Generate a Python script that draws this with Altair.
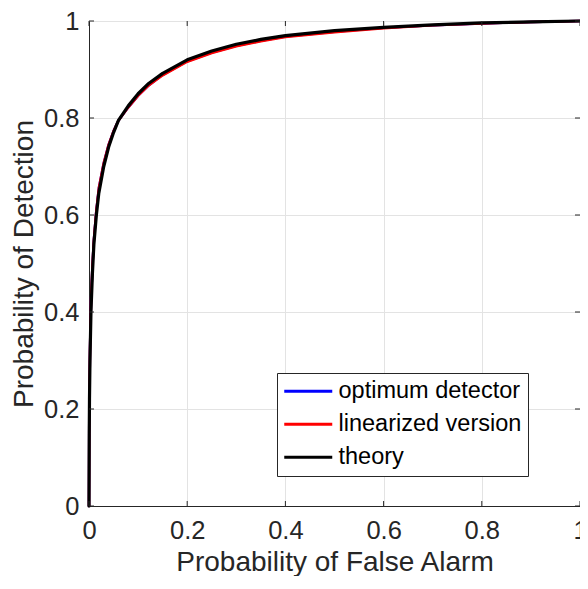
import altair as alt
import pandas as pd

# ---- data ----
pf_theory = [0, 0.0005, 0.001, 0.002, 0.004, 0.007, 0.01, 0.015, 0.02, 0.03, 0.04, 0.05,
             0.06, 0.08, 0.1, 0.12, 0.15, 0.2, 0.25, 0.3, 0.35, 0.4, 0.5, 0.6, 0.7, 0.8, 0.9, 1.0]
pd_theory = [0, 0.15, 0.22, 0.30, 0.40, 0.48, 0.54, 0.60, 0.645, 0.70, 0.74, 0.77,
             0.795, 0.825, 0.85, 0.87, 0.892, 0.92, 0.938, 0.952, 0.962, 0.970, 0.980, 0.987, 0.992, 0.996, 0.998, 1.0]

pf_lin = [0, 0.0005, 0.001, 0.002, 0.004, 0.007, 0.01, 0.015, 0.02, 0.03, 0.04, 0.05,
          0.06, 0.08, 0.1, 0.12, 0.15, 0.2, 0.25, 0.3, 0.35, 0.4, 0.5, 0.6, 0.7, 0.8, 0.9, 1.0]
pd_lin = [0, 0.17, 0.24, 0.32, 0.42, 0.495, 0.55, 0.61, 0.655, 0.707, 0.745, 0.773,
          0.795, 0.822, 0.846, 0.866, 0.888, 0.916, 0.934, 0.948, 0.958, 0.967, 0.977, 0.985, 0.991, 0.995, 0.998, 1.0]

pf_opt = [0, 0.0005, 0.001, 0.002, 0.004, 0.007, 0.01, 0.015, 0.02, 0.03, 0.04, 0.05,
          0.06, 0.08, 0.1, 0.12, 0.15, 0.2, 0.25, 0.3, 0.35, 0.4, 0.5, 0.6, 0.7, 0.8, 0.9, 1.0]
pd_opt = [0, 0.17, 0.24, 0.32, 0.42, 0.495, 0.55, 0.61, 0.655, 0.707, 0.745, 0.773,
          0.795, 0.822, 0.846, 0.866, 0.889, 0.917, 0.935, 0.949, 0.959, 0.968, 0.978, 0.986, 0.991, 0.995, 0.998, 1.0]

series_names = ["optimum detector", "linearized version", "theory"]
series_colors = ["#0000ff", "#ff0000", "#000000"]
tick_values = [0, 0.2, 0.4, 0.6, 0.8, 1.0]

rows = []
for name, xs, ys in [(series_names[0], pf_opt, pd_opt),
                     (series_names[1], pf_lin, pd_lin),
                     (series_names[2], pf_theory, pd_theory)]:
    for i, (x, y) in enumerate(zip(xs, ys)):
        rows.append({"series": name, "pfa": x, "pd": y, "idx": i})
df = pd.DataFrame(rows)
ticks_df = pd.DataFrame({"t": tick_values})

W = 491
H = 485
FONT = "Liberation Sans"
AX = "#262626"

xscale = alt.Scale(domain=[0, 1], nice=False, zero=False)
yscale = alt.Scale(domain=[0, 1], nice=False, zero=False)

xaxis = alt.Axis(title="Probability of False Alarm", values=tick_values, format="~g",
                 labelFontSize=25.5, titleFontSize=28, labelFont=FONT, titleFont=FONT,
                 labelColor=AX, titleColor=AX, titleFontWeight="normal",
                 grid=True, gridColor="#e3e3e3", gridWidth=1,
                 domainColor=AX, domainWidth=1, ticks=False, tickSize=0,
                 labelPadding=12, titlePadding=4.5, labelFlush=False)
yaxis = alt.Axis(title="Probability of Detection", values=tick_values, format="~g",
                 labelFontSize=25.5, titleFontSize=28, labelFont=FONT, titleFont=FONT,
                 labelColor=AX, titleColor=AX, titleFontWeight="normal",
                 grid=True, gridColor="#e3e3e3", gridWidth=1,
                 domainColor=AX, domainWidth=1, ticks=False, tickSize=0,
                 labelPadding=10, titlePadding=5, labelFlush=False)

legend = alt.Legend(title=None, orient="none", legendX=188, legendY=352,
                    symbolType="M-1.375,0H4.625", symbolSize=256, symbolStrokeWidth=3,
                    labelFontSize=23.5, labelFont=FONT, labelColor="#000000",
                    labelOffset=31.5, rowPadding=8, padding=6.5,
                    labelExpr="datum.label + ' '",
                    strokeColor=AX, fillColor="#ffffff", cornerRadius=0,
                    labelLimit=400)

color = alt.Color("series:N", scale=alt.Scale(domain=series_names, range=series_colors),
                  legend=legend)


def line_layer(name, width):
    return alt.Chart(df).transform_filter(alt.datum.series == name).mark_line(
        strokeWidth=width, strokeJoin="round", strokeCap="round"
    ).encode(
        x=alt.X("pfa:Q", scale=xscale, axis=xaxis),
        y=alt.Y("pd:Q", scale=yscale, axis=yaxis),
        color=color,
        order="idx:Q",
    )


tick_len = 5
tick_style = dict(color=AX, strokeWidth=1)
bottom_ticks = alt.Chart(ticks_df).mark_rule(**tick_style).encode(
    x=alt.X("t:Q", scale=xscale, axis=xaxis), y=alt.value(H), y2=alt.value(H - tick_len))
top_ticks = alt.Chart(ticks_df).mark_rule(**tick_style).encode(
    x=alt.X("t:Q", scale=xscale, axis=xaxis), y=alt.value(0), y2=alt.value(tick_len))
left_ticks = alt.Chart(ticks_df).mark_rule(**tick_style).encode(
    y=alt.Y("t:Q", scale=yscale, axis=yaxis), x=alt.value(0), x2=alt.value(tick_len))
right_ticks = alt.Chart(ticks_df).mark_rule(**tick_style).encode(
    y=alt.Y("t:Q", scale=yscale, axis=yaxis), x=alt.value(W), x2=alt.value(W - tick_len))

chart = alt.layer(
    line_layer(series_names[0], 2.5),
    line_layer(series_names[1], 2.5),
    line_layer(series_names[2], 3.2),
    bottom_ticks, top_ticks, left_ticks, right_ticks,
).properties(
    width=W, height=H,
    autosize=alt.AutoSizeParams(type="none"),
    padding={"left": 81, "top": 13, "right": 0, "bottom": 70},
).configure_view(
    stroke=AX, strokeWidth=1
).configure(background="#ffffff")

chart.save("out.html", embed_options={"renderer": "svg", "actions": False})
